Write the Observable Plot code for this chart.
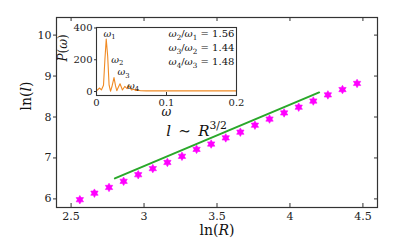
<!DOCTYPE html>
<html><head><meta charset="utf-8">
<script src="https://cdn.jsdelivr.net/npm/d3@7"></script>
<script src="https://cdn.jsdelivr.net/npm/@observablehq/plot@0.6"></script>
<style>
html,body{margin:0;padding:0;background:#fff;}
#wrap{position:relative;width:415px;height:241px;overflow:hidden;}
#wrap svg{position:absolute;overflow:visible;}
</style></head><body><div id="wrap"></div>
<script>
// ---- main data ----
const lnR = [2.56, 2.66, 2.76, 2.86, 2.96, 3.06, 3.16, 3.26, 3.36, 3.46, 3.56, 3.66, 3.76, 3.86, 3.96, 4.06, 4.16, 4.26, 4.36, 4.46];
const lnl = [5.98, 6.14, 6.28, 6.43, 6.59, 6.74, 6.89, 7.04, 7.21, 7.34, 7.49, 7.63, 7.80, 7.95, 8.10, 8.24, 8.39, 8.54, 8.67, 8.82];
const fitR = [2.8, 4.2];
const fitL = [6.5, 8.6];
const xTicks = [2.5, 3, 3.5, 4, 4.5];
const yTicks = [6, 7, 8, 9, 10];
const fitLabel = "l ∼ R^{3/2}";
const fitLabelPos = [3.36, 7.66];
const xLabel = "ln(R)";
const yLabel = "ln(l)";
// ---- inset data ----
const omega = [0, 0.0045, 0.007, 0.010, 0.012, 0.0139, 0.016, 0.018, 0.020, 0.022, 0.025, 0.0272, 0.029, 0.031, 0.0336, 0.0357, 0.037, 0.0404, 0.0437, 0.0464, 0.050, 0.053, 0.056, 0.059, 0.063, 0.071, 0.1, 0.15, 0.2];
const power = [5, 22, 10, 40, 200, 330, 220, 40, 2, 30, 88, 35, 5, 25, 49, 25, 10, 32, 18, 38, 10, 15, 6, 9, 5, 4, 4, 4, 4];
const insetXTicks = [0, 0.1, 0.2];
const insetYTicks = [0, 200, 400];
const peakLabels = ["ω_1", "ω_2", "ω_3", "ω_4"];
const peakLabelOmega = [0.0186, 0.0298, 0.0385, 0.0522];
const peakLabelPower = [365, 200, 122, 38];
const ratioLabels = ["ω_2/ω_1 = 1.56", "ω_3/ω_2 = 1.44", "ω_4/ω_3 = 1.48"];
const ratioOmega = [0.197, 0.197, 0.197];
const ratioPower = [365, 277, 189];
const insetXLabel = "ω";
const insetYLabel = "P(ω)";

const FONT = "DejaVu Serif";
const INK = "#222";
const FRAME = "#333";

// hexagram symbol
const hexagram = {
  draw(ctx, size) {
    const R = Math.sqrt(size / Math.PI) * 1.15, r = R / Math.sqrt(3);
    for (let i = 0; i < 12; i++) {
      const a = Math.PI / 6 * i - Math.PI / 2;
      const rr = i % 2 === 0 ? R : r;
      const x = rr * Math.cos(a), y = rr * Math.sin(a);
      if (i === 0) ctx.moveTo(x, y); else ctx.lineTo(x, y);
    }
    ctx.closePath();
  }
};

// rich text parsing: italic letters, _x subscript, ^{..} superscript, "ln" upright
function parse(s) {
  const out = [];
  let i = 0;
  while (i < s.length) {
    if (s.startsWith("ln", i)) { out.push({t: "ln", it: false, sh: 0}); i += 2; continue; }
    const c = s[i];
    if (c === "_") { out.push({t: s[i + 1], it: false, sh: 1}); i += 2; continue; }
    if (c === "^" && s[i + 1] === "{") {
      const j = s.indexOf("}", i);
      out.push({t: s.slice(i + 2, j), it: false, sh: -1}); i = j + 1; continue;
    }
    out.push({t: c, it: /[A-Za-zω]/.test(c), sh: 0}); i += 1;
  }
  return out;
}
function enrich(svg, label, strings, fs, spaceExtra = 0) {
  d3.select(svg).selectAll(`text[aria-label="${label}"]`).each(function (_, k) {
    const el = d3.select(this);
    const dat = el.datum();
    const i = typeof dat === "number" ? dat : k;
    const s = strings[i];
    if (s == null) return;
    el.selectAll("*").remove();
    el.text(null);
    el.attr("xml:space", "preserve");
    let cur = 0;
    for (const p of parse(s)) {
      const target = p.sh === 1 ? 0.28 * fs : p.sh === -1 ? -0.42 * fs : 0;
      const ts = el.append("tspan").text(p.t);
      if (p.it) ts.attr("font-style", "italic");
      if (p.sh !== 0) ts.attr("font-size", fs * 0.72);
      if (target !== cur) ts.attr("dy", target - cur);
      if (p.t === " " && spaceExtra) ts.attr("dx", spaceExtra);
      cur = target;
    }
  });
}

const wrap = document.getElementById("wrap");

const main = Plot.plot({
  width: 415, height: 241,
  marginLeft: 56, marginTop: 17, marginRight: 38, marginBottom: 34,
  x: {domain: [2.4, 4.6]},
  y: {domain: [5.79, 10.43]},
  style: {fontFamily: FONT, fontSize: "11px", color: INK, background: "transparent", overflow: "visible"},
  marks: [
    Plot.axisX(xTicks, {tickSize: 0, tickPadding: 5, fontSize: 11, label: null, tickFormat: d => String(d)}),
    Plot.ruleX(xTicks, {insetTop: 186, stroke: FRAME}),
    Plot.ruleX(xTicks, {insetBottom: 186, stroke: FRAME}),
    Plot.axisY(yTicks, {tickSize: 3, tickPadding: 2, fontSize: 11, label: null, stroke: FRAME}),
    Plot.ruleY(yTicks, {insetLeft: 318, stroke: FRAME}),
    Plot.line(fitR.map((r, i) => ({r, l: fitL[i]})), {x: "r", y: "l", stroke: "#2aa82a", strokeWidth: 2}),
    Plot.dot(lnR.map((r, i) => ({r, l: lnl[i]})), {x: "r", y: "l", symbol: hexagram, r: 3.7, fill: "#f0f", stroke: "#f0f", strokeWidth: 0.6}),
    Plot.text([fitLabel], {x: () => fitLabelPos[0], y: () => fitLabelPos[1], fontSize: 15, textAnchor: "middle", fill: "#111", ariaLabel: () => "fitlab"}),
    Plot.text([xLabel], {frameAnchor: "bottom", dy: 27, fontSize: 14, fill: "#111", ariaLabel: () => "xlab"}),
    Plot.text([yLabel], {frameAnchor: "left", dx: -30, dy: -2, rotate: -90, fontSize: 14, fill: "#111", ariaLabel: () => "ylab"}),
    Plot.frame({stroke: FRAME, strokeWidth: 1.2})
  ]
});
main.style.left = "0px"; main.style.top = "0px";
wrap.appendChild(main);
enrich(main, "fitlab", [fitLabel], 15, 2.5);
enrich(main, "xlab", [xLabel], 14);
enrich(main, "ylab", [yLabel], 14);

// inset: frame x 96..236, y 27..95
const inset = Plot.plot({
  width: 201, height: 105,
  marginLeft: 40, marginTop: 8, marginRight: 21, marginBottom: 29,
  x: {domain: [0, 0.2]},
  y: {domain: [-25, 403]},
  style: {fontFamily: FONT, fontSize: "10px", color: INK, background: "transparent", overflow: "visible"},
  marks: [
    Plot.frame({fill: "white", stroke: "none"}),
    Plot.axisX(insetXTicks, {tickSize: 0, tickPadding: 3, fontSize: 10, label: null, tickFormat: d => String(d)}),
    Plot.ruleX(insetXTicks, {insetTop: 65, stroke: FRAME}),
    Plot.axisY(insetYTicks, {tickSize: 2, tickPadding: 2, fontSize: 10, label: null, stroke: FRAME}),
    Plot.line(omega.map((w, i) => ({w, p: power[i]})), {x: "w", y: "p", stroke: "#f08a24", strokeWidth: 1.1}),
    Plot.text(peakLabels, {x: (d, i) => peakLabelOmega[i], y: (d, i) => peakLabelPower[i], fontSize: 9.5, fill: "#111", ariaLabel: () => "peaks"}),
    Plot.text(ratioLabels, {x: (d, i) => ratioOmega[i], y: (d, i) => ratioPower[i], textAnchor: "end", fontSize: 10, fill: "#111", ariaLabel: () => "ratios"}),
    Plot.text([insetXLabel], {frameAnchor: "bottom", dy: 20, fontSize: 12, fill: "#111", ariaLabel: () => "ixlab"}),
    Plot.text([insetYLabel], {frameAnchor: "left", dx: -33, rotate: -90, fontSize: 12, fill: "#111", ariaLabel: () => "iylab"}),
    Plot.frame({stroke: FRAME, strokeWidth: 1.1})
  ]
});
inset.style.left = "56px"; inset.style.top = "19px";
wrap.appendChild(inset);
enrich(inset, "peaks", peakLabels, 9.5);
enrich(inset, "ratios", ratioLabels, 10);
enrich(inset, "ixlab", [insetXLabel], 12);
enrich(inset, "iylab", [insetYLabel], 12);
</script></body></html>
